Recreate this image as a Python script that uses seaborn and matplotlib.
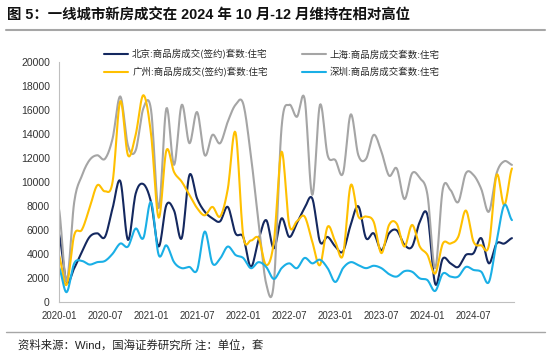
import numpy as np
import pandas as pd
import seaborn as sns
import matplotlib
matplotlib.use("Agg")
import matplotlib.pyplot as plt
from matplotlib.lines import Line2D

# monthly values, 2020-01 .. 2024-12
beijing = [5700, 1700, 2800, 4150, 5400, 5700, 5400, 7800, 10050, 5150, 9000, 9800,
           8300, 4600, 8050, 7600, 5300, 10550, 8600, 7500, 6950, 6700, 7900, 5700,
           5400, 2900, 5150, 6800, 4450, 6950, 5400, 6550, 7800, 8600, 5000, 5400,
           4600, 4200, 6400, 7950, 5300, 5700, 4300, 5700, 5950, 4750, 4600, 6650,
           7200, 1500, 3600, 3200, 2900, 3900, 4050, 5300, 3200, 4850, 4850, 5300]
shanghai = [7800, 1700, 8300, 10500, 11800, 12200, 11900, 13600, 17100, 13000, 12600, 16100,
            16000, 7800, 16100, 11400, 16400, 13200, 15800, 12200, 13900, 13200, 15000, 16400,
            16500, 12200, 6650, 1500, 1600, 14500, 16400, 15400, 16900, 8900, 16400, 12200,
            11800, 10700, 15600, 12200, 11900, 13900, 12500, 10500, 11100, 8550, 10700, 10300,
            8900, 2800, 9400, 9300, 8300, 10700, 10550, 9400, 7500, 10700, 11700, 11400]
guangzhou = [3900, 1400, 5550, 6000, 7800, 9700, 9200, 10000, 16700, 12200, 13900, 17200,
             14000, 7000, 12600, 10800, 10000, 8900, 7800, 7200, 7900, 7100, 9400, 14100,
             5550, 5100, 5300, 3050, 5000, 12500, 6400, 6700, 7100, 5000, 3050, 6250,
             5000, 3900, 9700, 7100, 7100, 6650, 4050, 6400, 6500, 4600, 6400, 4600,
             3900, 2350, 4850, 4850, 5400, 7600, 5000, 4700, 4700, 10550, 8050, 11100]
shenzhen = [2900, 800, 3200, 3400, 3100, 3300, 3400, 4000, 4850, 4600, 6100, 5300,
            8300, 3900, 4700, 3300, 2800, 2900, 2640, 5850, 3200, 3600, 4600, 3900,
            3650, 2800, 3300, 2900, 1900, 2800, 3200, 2800, 3650, 3200, 3500, 2800,
            1650, 2800, 3300, 3050, 2800, 3000, 2800, 2300, 2100, 2550, 2500, 1950,
            1800, 900, 2350, 2100, 2100, 2900, 2650, 2500, 1650, 5000, 8050, 6800]

series_names = ["北京:商品房成交(签约)套数:住宅", "上海:商品房成交套数:住宅",
                "广州:商品房成交(签约)套数:住宅", "深圳:商品房成交套数:住宅"]
series_colors = ["#14285F", "#A5A5A5", "#FFC000", "#1AAFE6"]
tick_labels = ["2020-01", "2020-07", "2021-01", "2021-07", "2022-01",
               "2022-07", "2023-01", "2023-07", "2024-01", "2024-07"]


def smooth(y, n=12):
    # catmull-rom curve through the points, like excel's smoothed line
    y = np.asarray(y, float)
    p = np.concatenate([[y[0]], y, [y[-1]]])
    xs, ys = [], []
    t = np.linspace(0, 1, n, endpoint=False)
    for i in range(len(y) - 1):
        p0, p1, p2, p3 = p[i], p[i + 1], p[i + 2], p[i + 3]
        seg = 0.5 * ((2 * p1) + (-p0 + p2) * t + (2 * p0 - 5 * p1 + 4 * p2 - p3) * t ** 2
                     + (-p0 + 3 * p1 - 3 * p2 + p3) * t ** 3)
        xs.extend(i + t)
        ys.extend(seg)
    xs.append(len(y) - 1)
    ys.append(y[-1])
    return np.array(xs), np.array(ys)


sns.set_style("white")
plt.rcParams['font.family'] = ['Liberation Sans', 'Noto Sans CJK SC', 'DejaVu Sans']

fig = plt.figure(figsize=(5.5, 3.58), dpi=100)
ax = fig.add_axes([0.107, 0.157, 0.828, 0.671])

data = [beijing, shanghai, guangzhou, shenzhen]
for vals, name, col in zip(data, series_names, series_colors):
    xs, ys = smooth(vals)
    df = pd.DataFrame({"x": xs, "y": ys})
    sns.lineplot(data=df, x="x", y="y", ax=ax, color=col, linewidth=1.5, sort=False)

ax.set_xlim(0, 59.3)
ax.set_ylim(0, 20000)
ax.set_yticks(range(0, 20001, 2000))
ax.set_xticks(range(0, 60, 6))
ax.set_xticklabels(tick_labels)
ax.set_xlabel("")
ax.set_ylabel("")
ax.tick_params(axis='both', labelsize=7.5, colors="#333333", length=3, width=0.6, direction="out")
ax.tick_params(axis='x', labelsize=7)
for s in ["top", "right"]:
    ax.spines[s].set_visible(False)
for s in ["left", "bottom"]:
    ax.spines[s].set_color("#BFBFBF")
    ax.spines[s].set_linewidth(0.8)

handles = [Line2D([], [], color=c, linewidth=1.5) for c in series_colors]
order = [0, 2, 1, 3]
ax.legend([handles[i] for i in order], [series_names[i] for i in order],
          ncol=2, loc="upper left", bbox_to_anchor=(0.08, 1.085), frameon=False,
          prop={'family': ['Noto Sans CJK SC'], 'size': 6.8},
          handlelength=2.6, handletextpad=0.4, columnspacing=3.6, labelspacing=0.8)

fig.text(0.012, 0.955, "图 5：一线城市新房成交在 2024 年 10 月-12 月维持在相对高位",
         fontsize=10.4, fontweight="bold", color="#111111", va="center")
fig.add_artist(Line2D([0.011, 0.99], [0.915, 0.915], color="#A6A6A6", linewidth=1.5))
fig.add_artist(Line2D([0.011, 0.99], [0.072, 0.072], color="#A6A6A6", linewidth=1.0))
fig.text(0.032, 0.036, "资料来源：Wind，国海证券研究所 注：单位，套",
         fontsize=8.2, color="#222222", va="center")

fig.savefig("out.png", dpi=100)
